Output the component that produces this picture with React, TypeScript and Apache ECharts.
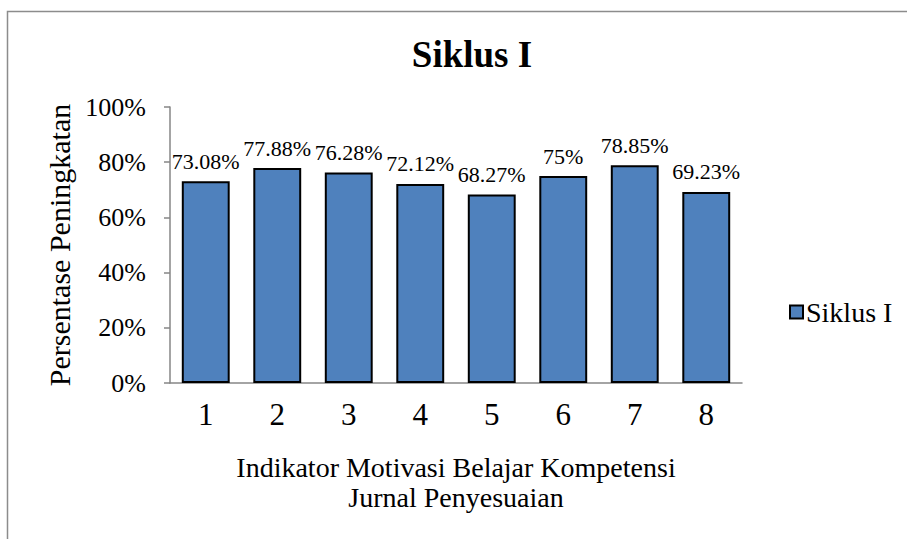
import React, { useEffect, useRef } from "react";
import * as echarts from "echarts";

const categories = ["1", "2", "3", "4", "5", "6", "7", "8"];
const seriesName = "Siklus I";
const values = [73.08, 77.88, 76.28, 72.12, 68.27, 75, 78.85, 69.23];
const yTicks = { min: 0, max: 100, interval: 20 };
const titleText = "Siklus I";
const yAxisName = "Persentase Peningkatan";
const xAxisName = "Indikator Motivasi Belajar Kompetensi\nJurnal Penyesuaian";

const FONT = "'Liberation Serif', 'Times New Roman', serif";

export default function App() {
  const ref = useRef<HTMLDivElement>(null);
  useEffect(() => {
    if (!ref.current) return;
    const chart = echarts.init(ref.current, null, { renderer: "svg" });
    chart.setOption({
      animation: false,
      backgroundColor: "#ffffff",
      textStyle: { fontFamily: FONT, color: "#000" },
      title: {
        text: titleText,
        left: 467,
        top: 31,
        textAlign: "center",
        textStyle: { fontFamily: FONT, fontSize: 37, fontWeight: "bold", color: "#000" },
      },
      graphic: [
        {
          type: "rect",
          shape: { x: 7.5, y: 11.5, width: 960, height: 600 },
          style: { fill: "none", stroke: "#8c8c8c", lineWidth: 1.5 },
          silent: true,
        },
      ],
      legend: {
        left: 784,
        top: 293,
        itemWidth: 13,
        itemHeight: 13,
        itemGap: 6,
        icon: "rect",
        textStyle: { fontFamily: FONT, fontSize: 28, color: "#000", padding: [0, 0, 0, -2] },
        data: [seriesName],
      },
      grid: { left: 170, right: 165, top: 107, bottom: 156, containLabel: false },
      xAxis: {
        type: "category",
        data: categories,
        name: xAxisName,
        nameLocation: "middle",
        nameGap: 69,
        nameTextStyle: { fontFamily: FONT, fontSize: 28, color: "#000", lineHeight: 30 },
        axisLine: { lineStyle: { color: "#868686", width: 1.5 } },
        axisTick: { show: false },
        axisLabel: { fontFamily: FONT, fontSize: 31, color: "#000", margin: 16 },
      },
      yAxis: {
        type: "value",
        min: yTicks.min,
        max: yTicks.max,
        interval: yTicks.interval,
        name: yAxisName,
        nameLocation: "middle",
        nameGap: 86,
        nameTextStyle: { fontFamily: FONT, fontSize: 30, color: "#000" },
        axisLine: { show: true, lineStyle: { color: "#868686", width: 1.5 } },
        axisTick: { show: true, inside: false, length: 6, lineStyle: { color: "#868686", width: 1.5 } },
        splitLine: { show: false },
        axisLabel: {
          fontFamily: FONT,
          fontSize: 26,
          color: "#000",
          margin: 24,
          formatter: (v: number) => `${v}%`,
        },
      },
      series: [
        {
          type: "bar",
          name: seriesName,
          data: values,
          barCategoryGap: "33%",
          itemStyle: { color: "#4F81BD", borderColor: "#000", borderWidth: 2 },
          label: {
            show: true,
            position: "top",
            distance: 9,
            fontFamily: FONT,
            fontSize: 22,
            color: "#000",
            formatter: (p: any) => `${p.value}%`,
          },
        },
      ],
    });
    return () => chart.dispose();
  }, []);
  return (
    <div
      ref={ref}
      style={{ position: "fixed", left: 0, top: 0, width: 907, height: 539, background: "#fff" }}
    />
  );
}
